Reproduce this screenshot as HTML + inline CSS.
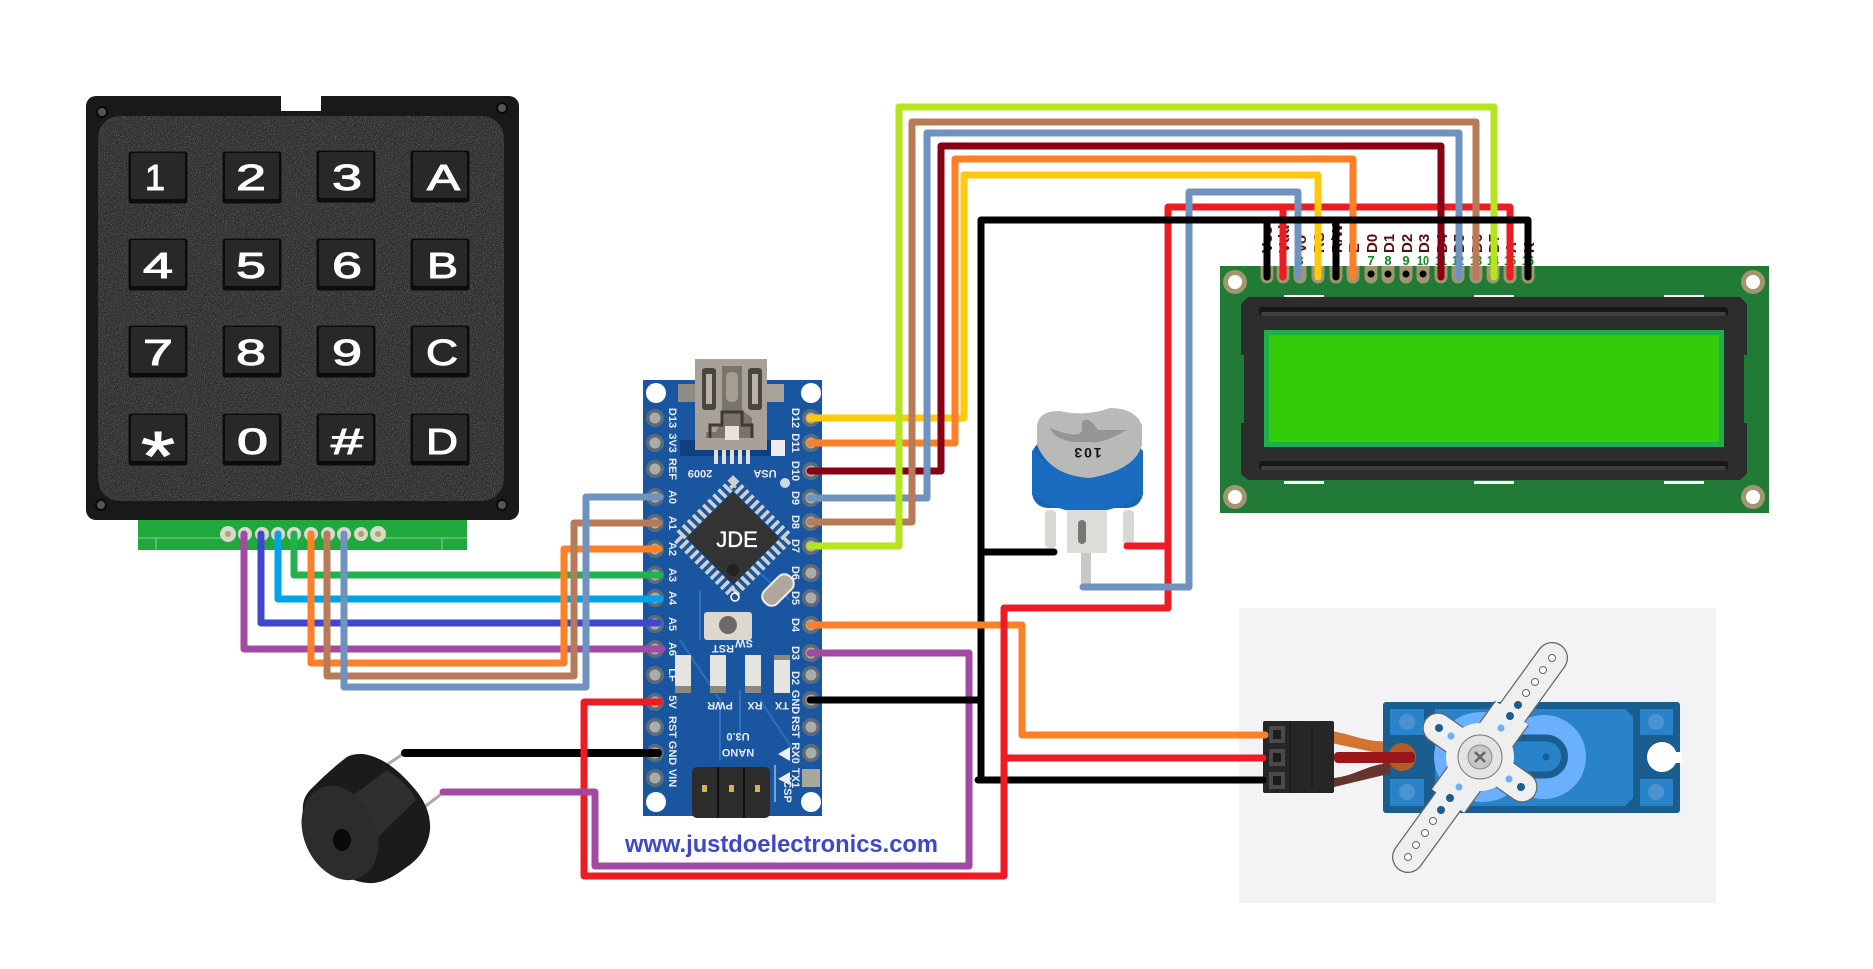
<!DOCTYPE html>
<html><head><meta charset="utf-8"><style>html,body{margin:0;padding:0;background:#fff}svg{display:block}text{font-family:"Liberation Sans",sans-serif}</style></head>
<body>
<svg width="1873" height="969" viewBox="0 0 1873 969" xmlns="http://www.w3.org/2000/svg">
<defs>
<filter id="n" x="0" y="0" width="100%" height="100%" color-interpolation-filters="sRGB"><feTurbulence type="fractalNoise" baseFrequency="0.9" numOctaves="2" seed="3"/><feColorMatrix values="0 0 0 0 .42 0 0 0 0 .42 0 0 0 0 .42 2.4 0 0 0 -1.1"/><feComposite in2="SourceGraphic" operator="in" result="s"/><feMerge><feMergeNode in="SourceGraphic"/><feMergeNode in="s"/></feMerge></filter>
<g id="key"><rect width="60" height="53" rx="3" fill="#0c0c0c" stroke="#3c3c3c" stroke-width="1"/><rect x="3" y="2" width="54" height="46" rx="2" fill="#282828"/></g>
<g id="pd"><circle r="9" fill="#5d6b78"/><circle r="5.5" fill="#a9aca8"/></g>
<g id="pin"><path d="M-6.5 0H6.5V11a6.5 6.5 0 0 1-13 0Z" fill="#a09670"/></g>
</defs>

<!-- KEYPAD -->
<rect x="138" y="518" width="329" height="32" fill="#1fa83c"/>
<path d="M138 538H228M378 538H467M156 538V550M442 538V550" stroke="#7fd6a0" stroke-width="1" fill="none"/>
<g fill="#d8d8cc"><circle cx="228" cy="534" r="8"/><circle cx="245" cy="534" r="7"/><circle cx="262" cy="534" r="7"/><circle cx="278" cy="534" r="7"/><circle cx="294" cy="534" r="7"/><circle cx="311" cy="534" r="7"/><circle cx="328" cy="534" r="7"/><circle cx="344" cy="534" r="7"/><circle cx="361" cy="534" r="7"/><circle cx="378" cy="534" r="8"/></g>
<g fill="#a8a860"><circle cx="228" cy="534" r="3"/><circle cx="361" cy="534" r="3"/><circle cx="378" cy="534" r="3"/></g>
<rect x="86" y="96" width="433" height="424" rx="10" fill="#191919"/>
<rect x="281" y="90" width="40" height="21" fill="#fff"/>
<rect x="98" y="116" width="406" height="385" rx="22" fill="#303030" filter="url(#n)"/>
<g fill="#555" stroke="#0a0a0a" stroke-width="2"><circle cx="102" cy="112" r="5"/><circle cx="502" cy="108" r="5"/><circle cx="101" cy="505" r="5"/><circle cx="502" cy="505" r="5"/></g>
<use href="#key" x="128" y="151"/><use href="#key" x="222" y="151"/><use href="#key" x="316" y="150"/><use href="#key" x="410" y="150"/>
<use href="#key" x="128" y="238"/><use href="#key" x="222" y="238"/><use href="#key" x="316" y="238"/><use href="#key" x="410" y="238"/>
<use href="#key" x="128" y="325"/><use href="#key" x="222" y="325"/><use href="#key" x="316" y="325"/><use href="#key" x="410" y="325"/>
<use href="#key" x="128" y="413"/><use href="#key" x="222" y="413"/><use href="#key" x="316" y="413"/><use href="#key" x="410" y="413"/>
<g fill="#fff" stroke="#fff" stroke-width="1" font-size="36" style="font-family:'Liberation Sans',sans-serif">
<text x="145" y="190" textLength="20" lengthAdjust="spacingAndGlyphs">1</text><text x="236" y="190" textLength="30" lengthAdjust="spacingAndGlyphs">2</text><text x="332" y="190" textLength="30" lengthAdjust="spacingAndGlyphs">3</text><text x="427" y="190" textLength="33" lengthAdjust="spacingAndGlyphs">A</text>
<text x="143" y="278" textLength="30" lengthAdjust="spacingAndGlyphs">4</text><text x="236" y="278" textLength="30" lengthAdjust="spacingAndGlyphs">5</text><text x="332" y="278" textLength="30" lengthAdjust="spacingAndGlyphs">6</text><text x="427" y="278" textLength="31" lengthAdjust="spacingAndGlyphs">B</text>
<text x="143" y="365" textLength="30" lengthAdjust="spacingAndGlyphs">7</text><text x="236" y="365" textLength="30" lengthAdjust="spacingAndGlyphs">8</text><text x="332" y="365" textLength="30" lengthAdjust="spacingAndGlyphs">9</text><text x="426" y="365" textLength="32" lengthAdjust="spacingAndGlyphs">C</text>
<text x="141" y="480" textLength="34" lengthAdjust="spacingAndGlyphs" font-size="70">*</text><text x="237" y="454" textLength="31" lengthAdjust="spacingAndGlyphs">0</text><text x="331" y="454" textLength="32" lengthAdjust="spacingAndGlyphs">#</text><text x="426" y="454" textLength="32" lengthAdjust="spacingAndGlyphs">D</text>
</g>

<!-- NANO -->
<rect x="643" y="380" width="179" height="436" fill="#1a56a0"/>
<path d="M680 640L720 700V760M790 600L700 520M760 700L800 760M700 590V640M740 690V740" stroke="#2f6fbe" stroke-width="2" fill="none"/>
<g fill="#fff"><circle cx="656" cy="393" r="10"/><circle cx="811" cy="393" r="10"/><circle cx="656" cy="802" r="10"/><circle cx="811" cy="802" r="10"/></g>
<g>
<use href="#pd" x="655" y="418"/><use href="#pd" x="655" y="443"/><use href="#pd" x="655" y="469"/><use href="#pd" x="655" y="497"/><use href="#pd" x="655" y="523"/><use href="#pd" x="655" y="549"/><use href="#pd" x="655" y="575"/><use href="#pd" x="655" y="598"/><use href="#pd" x="655" y="624"/><use href="#pd" x="655" y="649"/><use href="#pd" x="655" y="675"/><use href="#pd" x="655" y="702"/><use href="#pd" x="655" y="727"/><use href="#pd" x="655" y="753"/><use href="#pd" x="655" y="778"/>
<use href="#pd" x="811" y="418"/><use href="#pd" x="811" y="443"/><use href="#pd" x="811" y="471"/><use href="#pd" x="811" y="498"/><use href="#pd" x="811" y="522"/><use href="#pd" x="811" y="546"/><use href="#pd" x="811" y="573"/><use href="#pd" x="811" y="598"/><use href="#pd" x="811" y="625"/><use href="#pd" x="811" y="653"/><use href="#pd" x="811" y="675"/><use href="#pd" x="811" y="700"/><use href="#pd" x="811" y="727"/><use href="#pd" x="811" y="753"/>
<rect x="802" y="769" width="18" height="18" fill="#a8a89a"/>
</g>
<!-- usb -->
<rect x="678" y="384" width="17" height="18" fill="#8f8a82"/><rect x="767" y="384" width="17" height="18" fill="#a8a299"/>
<rect x="680" y="440" width="100" height="16" fill="#0f3f80"/>
<rect x="695" y="359" width="72" height="91" fill="#a8a198"/>
<rect x="702" y="368" width="14" height="42" rx="3" fill="#4a4540"/><rect x="748" y="368" width="14" height="42" rx="3" fill="#4a4540"/>
<rect x="706" y="374" width="6" height="30" fill="#b9b2a8"/><rect x="752" y="374" width="6" height="30" fill="#b9b2a8"/>
<path d="M722 366H742V410L752 418V438H706V432H716L722 420Z" fill="#7a7369"/>
<rect x="726" y="372" width="12" height="30" rx="5" fill="#a59d92"/>
<path d="M710 438V425H722V412H742V425H752V438" fill="none" stroke="#3f3a36" stroke-width="3"/>
<rect x="725" y="426" width="14" height="14" fill="#e8e2da"/>
<path d="M716 450v14M724 450v14M732 450v14M740 450v14M748 450v14" stroke="#ddd" stroke-width="4"/>
<rect x="771" y="440" width="14" height="16" fill="#eee"/>
<!-- chip -->
<g transform="rotate(45 733 538)">
<rect x="694" y="499" width="78" height="78" fill="none" stroke="#d0d0d0" stroke-width="11" stroke-dasharray="3.6 3.6"/>
<rect x="700" y="505" width="66" height="66" rx="2" fill="#333"/>
</g>
<circle cx="733" cy="570" r="6" fill="#222"/>
<text x="737" y="547" font-size="22" font-weight="400" fill="#fff" stroke="#fff" stroke-width=".35" text-anchor="middle">JDE</text>
<circle cx="785" cy="483" r="5" fill="#cfd8e4"/>
<circle cx="735" cy="597" r="4" fill="none" stroke="#fff" stroke-width="1.6"/>
<!-- crystal -->
<g transform="rotate(-45 778 590)"><rect x="760" y="581" width="36" height="18" rx="8" fill="#b0a89c" stroke="#eee" stroke-width="2"/></g>
<!-- button -->
<rect x="704" y="612" width="48" height="28" rx="3" fill="#ddd7cc"/><circle cx="728" cy="625" r="9" fill="#6a6a6a"/>
<!-- LEDs -->
<g fill="#e4e4e0"><rect x="675" y="655" width="16" height="38"/><rect x="710" y="655" width="16" height="38"/><rect x="745" y="655" width="16" height="38"/><rect x="774" y="655" width="16" height="38"/></g>
<g fill="#8a8a80"><rect x="675" y="686" width="16" height="7"/><rect x="710" y="686" width="16" height="7"/><rect x="745" y="686" width="16" height="7"/><rect x="774" y="655" width="16" height="5"/></g>
<!-- ICSP -->
<rect x="692" y="767" width="78" height="51" rx="5" fill="#2c2c2c"/>
<path d="M718 767v51M744 767v51" stroke="#111" stroke-width="2"/>
<g fill="#d8b050"><rect x="702" y="785" width="5" height="7"/><rect x="729" y="785" width="5" height="7"/><rect x="755" y="785" width="5" height="7"/></g>
<path d="M775 765V802" stroke="#dfe8f2" stroke-width="1"/>
<path d="M778 754L790 747V761Z M790 772V785L778 779Z" fill="#eef"/>
<!-- nano labels -->
<g fill="#e6ecf6" font-size="11" font-weight="700" text-anchor="middle">
<text transform="translate(669 418) rotate(90)">D13</text><text transform="translate(669 443) rotate(90)">3V3</text><text transform="translate(669 469) rotate(90)">REF</text><text transform="translate(669 497) rotate(90)">A0</text><text transform="translate(669 523) rotate(90)">A1</text><text transform="translate(669 549) rotate(90)">A2</text><text transform="translate(669 575) rotate(90)">A3</text><text transform="translate(669 598) rotate(90)">A4</text><text transform="translate(669 624) rotate(90)">A5</text><text transform="translate(669 649) rotate(90)">A6</text><text transform="translate(669 675) rotate(90)">LF</text><text transform="translate(669 702) rotate(90)">5V</text><text transform="translate(669 727) rotate(90)">RST</text><text transform="translate(669 753) rotate(90)">GND</text><text transform="translate(669 778) rotate(90)">VIN</text>
<text transform="translate(792 418) rotate(90)">D12</text><text transform="translate(792 443) rotate(90)">D11</text><text transform="translate(792 471) rotate(90)">D10</text><text transform="translate(792 498) rotate(90)">D9</text><text transform="translate(792 522) rotate(90)">D8</text><text transform="translate(792 546) rotate(90)">D7</text><text transform="translate(792 573) rotate(90)">D6</text><text transform="translate(792 598) rotate(90)">D5</text><text transform="translate(792 625) rotate(90)">D4</text><text transform="translate(792 653) rotate(90)">D3</text><text transform="translate(792 678) rotate(90)">D2</text><text transform="translate(792 702) rotate(90)">GND</text><text transform="translate(792 727) rotate(90)">RST</text><text transform="translate(792 753) rotate(90)">RX0</text><text transform="translate(792 778) rotate(90)">TX1</text>
<text transform="translate(700 470) rotate(180)">2009</text><text transform="translate(765 470) rotate(180)">USA</text><text transform="translate(723 645) rotate(180)">RST</text><text transform="translate(744 640) rotate(180)">SW</text><text transform="translate(720 702) rotate(180)">PWR</text><text transform="translate(755 702) rotate(180)">RX</text><text transform="translate(782 702) rotate(180)">TX</text><text transform="translate(738 733) rotate(180)">U3.0</text><text transform="translate(738 749) rotate(180)">NANO</text><text transform="translate(784 790) rotate(90)">ICSP</text>
</g>

<!-- POT -->
<g>
<rect x="1045" y="510" width="11" height="38" rx="4" fill="#d8d8d4"/><rect x="1123" y="510" width="11" height="36" rx="4" fill="#d8d8d4"/>
<rect x="1032" y="440" width="111" height="68" rx="16" fill="#1565b5"/>
<path d="M1032 450Q1085 505 1143 450V495Q1085 530 1032 495Z" fill="#1a6cc0"/>
<path d="M1037 440V425Q1040 410 1060 411Q1085 417 1110 408Q1135 408 1142 425V445Q1135 470 1090 478Q1050 476 1037 445Z" fill="#b9b9b7"/>
<path d="M1050 428Q1080 440 1082 430V422Q1088 415 1098 430L1127 430Q1100 445 1090 442H1075Q1055 440 1050 428Z" fill="#959593"/>
<text transform="translate(1087 448) rotate(180)" font-size="14" font-weight="700" text-anchor="middle" fill="#111" letter-spacing="2">103</text>
<rect x="1067" y="510" width="40" height="43" fill="#dcdcd8"/><rect x="1078" y="520" width="8" height="24" rx="4" fill="#777"/>
<rect x="1081" y="553" width="10" height="36" fill="#c8c8c4"/>
</g>

<!-- BUZZER -->
<g>
<path d="M385 766L406 752M423 808L444 792" stroke="#aaa" stroke-width="3"/>
<path d="M363 754C385 757 403 775 413 787C425 800 431 815 430 830C428 848 418 860 404 869C392 878 380 884 368 883C355 882 345 877 337 870C318 853 305 836 303 815C302 803 304 797 310 790C322 778 336 765 347 757C352 754 358 754 363 754Z" fill="#1b1b1b"/>
<path d="M347 800L387 770C402 780 412 790 416 800L377 838Z" fill="#2f2f2f"/>
<ellipse cx="340" cy="833" rx="36" ry="49" transform="rotate(-24 340 833)" fill="#2c2c2c"/>
<ellipse cx="342" cy="840" rx="9" ry="11" fill="#0a0a0a"/>
</g>

<!-- LCD -->
<rect x="1220" y="266" width="549" height="247" fill="#217a35"/>
<g fill="#a09670"><circle cx="1235" cy="282" r="12"/><circle cx="1753" cy="282" r="12"/><circle cx="1235" cy="497" r="12"/><circle cx="1753" cy="497" r="12"/></g>
<g fill="#fff"><circle cx="1235" cy="282" r="7"/><circle cx="1753" cy="282" r="7"/><circle cx="1235" cy="497" r="7"/><circle cx="1753" cy="497" r="7"/></g>
<g fill="#fff"><rect x="1284" y="295" width="40" height="3"/><rect x="1474" y="295" width="40" height="3"/><rect x="1664" y="295" width="40" height="3"/><rect x="1284" y="481" width="40" height="3"/><rect x="1474" y="481" width="40" height="3"/><rect x="1664" y="481" width="40" height="3"/></g>
<path d="M1248 297H1740L1747 304V355H1744V423H1747V474L1740 480H1248L1241 474V423H1244V355H1241V304Z" fill="#2d2d2d"/>
<rect x="1259" y="307" width="469" height="9" rx="3" fill="#161616"/><rect x="1261" y="312" width="465" height="4" rx="2" fill="#3f3f3f"/>
<rect x="1259" y="461" width="469" height="9" rx="3" fill="#161616"/><rect x="1261" y="466" width="465" height="4" rx="2" fill="#3f3f3f"/>
<rect x="1264" y="330" width="460" height="117" fill="#1fae4b"/><rect x="1269" y="335" width="450" height="107" fill="#33cc08"/>
<g><use href="#pin" x="1267" y="266"/><use href="#pin" x="1283" y="266"/><use href="#pin" x="1300" y="266"/><use href="#pin" x="1318" y="266"/><use href="#pin" x="1336" y="266"/><use href="#pin" x="1353" y="266"/><use href="#pin" x="1371" y="266"/><use href="#pin" x="1388" y="266"/><use href="#pin" x="1406" y="266"/><use href="#pin" x="1423" y="266"/><use href="#pin" x="1441" y="266"/><use href="#pin" x="1458" y="266"/><use href="#pin" x="1476" y="266"/><use href="#pin" x="1493" y="266"/><use href="#pin" x="1510" y="266"/><use href="#pin" x="1528" y="266"/></g>
<g fill="#000"><circle cx="1371" cy="274" r="3.5"/><circle cx="1388" cy="274" r="3.5"/><circle cx="1406" cy="274" r="3.5"/><circle cx="1423" cy="274" r="3.5"/></g>
<g fill="#5a0f0f" font-size="15" font-weight="700">
<text transform="translate(1272 253) rotate(-90)">Vcc</text><text transform="translate(1289 253) rotate(-90)">Vdd</text><text transform="translate(1306 253) rotate(-90)">Vo</text><text transform="translate(1324 253) rotate(-90)">RS</text><text transform="translate(1342 253) rotate(-90)">R/W</text><text transform="translate(1359 253) rotate(-90)">E</text><text transform="translate(1377 253) rotate(-90)">D0</text><text transform="translate(1394 253) rotate(-90)">D1</text><text transform="translate(1412 253) rotate(-90)">D2</text><text transform="translate(1429 253) rotate(-90)">D3</text><text transform="translate(1447 253) rotate(-90)">D4</text><text transform="translate(1464 253) rotate(-90)">D5</text><text transform="translate(1482 253) rotate(-90)">D6</text><text transform="translate(1499 253) rotate(-90)">D7</text><text transform="translate(1516 253) rotate(-90)">A</text><text transform="translate(1534 253) rotate(-90)">K</text>
</g>
<g fill="#0c8a1e" font-size="13" font-weight="700" text-anchor="middle">
<text x="1267" y="265">1</text><text x="1283" y="265">2</text><text x="1300" y="265">3</text><text x="1318" y="265">4</text><text x="1336" y="265">5</text><text x="1353" y="265">6</text><text x="1371" y="265">7</text><text x="1388" y="265">8</text><text x="1406" y="265">9</text><text x="1423" y="265" textLength="12" lengthAdjust="spacingAndGlyphs">10</text><text x="1441" y="265" textLength="12" lengthAdjust="spacingAndGlyphs">11</text><text x="1458" y="265" textLength="12" lengthAdjust="spacingAndGlyphs">12</text><text x="1476" y="265" textLength="12" lengthAdjust="spacingAndGlyphs">13</text><text x="1493" y="265" textLength="12" lengthAdjust="spacingAndGlyphs">14</text><text x="1510" y="265" textLength="12" lengthAdjust="spacingAndGlyphs">15</text><text x="1528" y="265" textLength="12" lengthAdjust="spacingAndGlyphs">16</text>
</g>

<!-- SERVO -->
<rect x="1239" y="608" width="477" height="295" fill="#f3f3f5"/>
<path d="M1334 733C1355 737 1365 743 1385 743V753L1334 742Z" fill="#d17530" stroke="#d17530" stroke-width="3"/>
<rect x="1383" y="702" width="297" height="111" rx="3" fill="#1a5e8f"/>
<path d="M1435 709H1625L1633 717V798L1625 806H1435Z" fill="#2883cb"/>
<ellipse cx="1482" cy="757" rx="48" ry="45" fill="#6bb0ff"/>
<circle cx="1544" cy="757" r="42" fill="#6bb0ff"/>
<path d="M1500 738H1546A18 18 0 0 1 1546 775H1500" fill="#2883cb" stroke="#1a5e8f" stroke-width="7"/>
<circle cx="1546" cy="757" r="3.5" fill="#1a5e8f"/>
<g fill="#2883cb"><rect x="1390" y="709" width="34" height="26"/><rect x="1390" y="779" width="34" height="27"/><rect x="1640" y="709" width="33" height="26"/><rect x="1640" y="779" width="33" height="27"/></g>
<g fill="#4a92d0"><circle cx="1407" cy="722" r="8"/><circle cx="1407" cy="792" r="8"/><circle cx="1656" cy="722" r="8"/><circle cx="1656" cy="792" r="8"/></g>
<circle cx="1662" cy="757" r="15" fill="#fff"/><rect x="1662" y="752" width="20" height="11" fill="#fff"/>
<circle cx="1402" cy="757" r="14" fill="#b85a25"/>
<path d="M1334 780C1355 778 1365 768 1388 765V772L1334 785Z" fill="#65352b" stroke="#65352b" stroke-width="4"/>
<rect x="1334" y="752" width="81" height="11" rx="4" fill="#97171a"/>
<rect x="1263" y="721" width="71" height="72" rx="2" fill="#262626"/>
<path d="M1290 721V793M1312 726V788" stroke="#1e1e1e" stroke-width="2"/>
<g fill="#4a4a4a"><rect x="1269" y="726" width="16" height="17"/><rect x="1269" y="749" width="16" height="17"/><rect x="1269" y="772" width="16" height="17"/></g>
<g fill="#1c1c1c"><rect x="1273" y="730" width="8" height="9"/><rect x="1273" y="753" width="8" height="9"/><rect x="1273" y="776" width="8" height="9"/></g>
<g stroke="#666" fill="none">
<path d="M1552 658L1408 857" stroke-width="32" stroke-linecap="round"/>
<path d="M1438 728L1522 787" stroke-width="31" stroke-linecap="round"/>
<path d="M1512 713L1448 801" stroke-width="42"/>
</g>
<g stroke="#efefef" fill="none">
<path d="M1552 658L1408 857" stroke-width="29.5" stroke-linecap="round"/>
<path d="M1438 728L1522 787" stroke-width="28.5" stroke-linecap="round"/>
<path d="M1512 713L1448 801" stroke-width="39.5"/>
</g>
<circle cx="1480" cy="757" r="34" fill="#efefef"/>
<circle cx="1480" cy="757" r="22" fill="#e4e4e4" stroke="#777"/><circle cx="1480" cy="757" r="12" fill="#c8c8c8" stroke="#888"/>
<path d="M1475 752L1485 762M1485 752L1475 762" stroke="#666" stroke-width="2.5"/>
<g fill="#fff" stroke="#666"><circle cx="1552" cy="658" r="3.5"/><circle cx="1543" cy="670" r="3.5"/><circle cx="1535" cy="682" r="3.5"/><circle cx="1526" cy="693" r="3.5"/><circle cx="1433" cy="821" r="3.5"/><circle cx="1425" cy="833" r="3.5"/><circle cx="1416" cy="845" r="3.5"/><circle cx="1408" cy="857" r="3.5"/></g>
<g fill="#1a5e8f"><circle cx="1518" cy="705" r="4"/><circle cx="1510" cy="716" r="4"/><circle cx="1450" cy="798" r="4"/><circle cx="1441" cy="810" r="4"/><circle cx="1439" cy="728" r="4"/><circle cx="1521" cy="787" r="4"/></g>
<g fill="#6bb0ff"><circle cx="1501" cy="728" r="3.5"/><circle cx="1459" cy="787" r="3.5"/><circle cx="1451" cy="736" r="3.5"/><circle cx="1509" cy="779" r="3.5"/></g>

<!-- WIRES -->
<g fill="none" stroke-width="7" stroke-linejoin="round" stroke-linecap="round">
<path d="M294 534V575H660" stroke="#22b14c"/>
<path d="M278 534V599H660" stroke="#00a2e8"/>
<path d="M261 534V623H658" stroke="#3f48cc"/>
<path d="M244 534V649H662" stroke="#a349a4"/>
<path d="M659 549H564V663H311V534" stroke="#ff7f27"/>
<path d="M659 523H574V676H327V534" stroke="#b97a57"/>
<path d="M660 497H586V687H344V534" stroke="#7092be"/>
<path d="M405 753H658" stroke="#000" stroke-width="8"/>
<path d="M660 702H584V876H1004V608H1168V207H1510V277" stroke="#ed1c24"/>
<path d="M1283 207V277" stroke="#ed1c24"/>
<path d="M443 792H595V866H969V653H810" stroke="#a349a4"/>
<path d="M1127 546H1168" stroke="#ed1c24"/>
<path d="M1083 587H1189V192H1298V277" stroke="#7092be"/>
<path d="M810 418H964V175H1318V277" stroke="#ffc90e"/>
<path d="M810 443H955V159H1353V277" stroke="#ff7f27"/>
<path d="M810 471H941V146H1441V277" stroke="#880015"/>
<path d="M810 498H927V133H1459V277" stroke="#7092be"/>
<path d="M810 522H912V122H1476V277" stroke="#b97a57"/>
<path d="M810 546H899V107H1494V277" stroke="#b5e61d"/>
<path d="M981 780V220H1528V277M1267 220V277M1336 220V277" stroke="#000"/>
<path d="M978 780H1263" stroke="#000"/>
<path d="M810 700H981M981 552H1054" stroke="#000"/>
<path d="M1004 758H1263" stroke="#ed1c24"/>
<path d="M810 625H1022V735H1265" stroke="#ff7f27"/>
<path d="M1004 610V870" stroke="#ed1c24"/>
</g>

<text x="625" y="852" font-size="24" font-weight="700" fill="#3f48cc" textLength="313" lengthAdjust="spacingAndGlyphs">www.justdoelectronics.com</text>
</svg>
</body></html>
